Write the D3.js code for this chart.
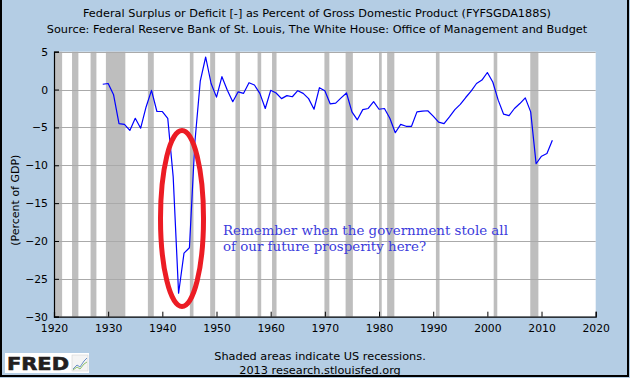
<!DOCTYPE html>
<html>
<head>
<meta charset="utf-8">
<script src="https://cdn.jsdelivr.net/npm/d3@7"></script>
<style>
  html, body { margin: 0; padding: 0; background: #b4cde4; }
  svg { display: block; }
</style>
</head>
<body>
<svg id="chart" width="630" height="378"></svg>
<script>
// ---- DATA ----
const years = [1929,1930,1931,1932,1933,1934,1935,1936,1937,1938,1939,1940,1941,1942,1943,1944,1945,1946,1947,1948,1949,
  1950,1951,1952,1953,1954,1955,1956,1957,1958,1959,1960,1961,1962,1963,1964,1965,1966,1967,1968,1969,
  1970,1971,1972,1973,1974,1975,1976,1977,1978,1979,1980,1981,1982,1983,1984,1985,1986,1987,1988,1989,
  1990,1991,1992,1993,1994,1995,1996,1997,1998,1999,2000,2001,2002,2003,2004,2005,2006,2007,2008,2009,
  2010,2011,2012];
const deficitPct = [0.7,0.8,-0.7,-4.5,-4.6,-5.4,-3.8,-5.1,-2.3,-0.1,-2.9,-2.9,-3.8,-11.5,-26.9,-21.6,-20.9,-7.0,1.1,4.3,0.8,
  -1.0,1.7,-0.1,-1.6,-0.3,-0.5,0.9,0.6,-0.5,-2.5,-0.1,-0.45,-1.2,-0.8,-0.95,-0.15,-0.5,-1.2,-2.6,0.25,
  -0.15,-1.9,-1.8,-1.1,-0.45,-2.95,-4.0,-2.65,-2.5,-1.6,-2.6,-2.5,-3.8,-5.7,-4.6,-4.85,-4.85,-2.95,-2.85,-2.8,
  -3.5,-4.3,-4.5,-3.6,-2.65,-1.95,-1.05,-0.2,0.8,1.25,2.25,1.0,-1.4,-3.25,-3.45,-2.5,-1.85,-1.1,-2.95,-9.8,
  -8.8,-8.45,-6.7];
const recessionStart = [1920.0,1923.33,1926.75,1929.58,1937.33,1945.08,1948.83,1953.5,1957.58,1960.25,1969.92,1973.83,1980.0,1981.5,1990.5,2001.17,2007.92];
const recessionEnd   = [1921.5,1924.5,1927.83,1933.17,1938.42,1945.75,1949.75,1954.33,1958.25,1961.08,1970.83,1975.17,1980.5,1982.83,1991.17,2001.83,2009.42];
const xTicks = [1920,1930,1940,1950,1960,1970,1980,1990,2000,2010,2020];
const yTicks = [5,0,-5,-10,-15,-20,-25,-30];
const titleLines = ["Federal Surplus or Deficit [-] as Percent of Gross Domestic Product (FYFSGDA188S)",
  "Source: Federal Reserve Bank of St. Louis, The White House: Office of Management and Budget"];
const yLabel = "(Percent of GDP)";
const footLines = ["Shaded areas indicate US recessions.", "2013 research.stlouisfed.org"];
const noteLines = ["Remember when the government stole all", "of our future prosperity here?"];
const circledYear = [1939.66, 1947.6];
const circledRange = [-5.4, -28.65];

// ---- LAYOUT ----
const W = 630, H = 378;
const plot = {left: 54, right: 595.7, top: 51.7, bottom: 316.7};
const svg = d3.select("#chart");
const font = "DejaVu Sans, Verdana, sans-serif";

svg.append("rect").attr("x",0).attr("y",0).attr("width",W).attr("height",H).attr("fill","#b4cde4");

const x = d3.scaleLinear().domain([1920, 2020]).range([plot.left, plot.right]);
const y = d3.scaleLinear().domain([-30, 5]).range([plot.bottom, plot.top]);

// plot background
svg.append("rect").attr("x", plot.left).attr("y", plot.top)
  .attr("width", plot.right - plot.left).attr("height", plot.bottom - plot.top).attr("fill", "#ffffff");

// recessions
svg.append("g").selectAll("rect").data(recessionStart.map((s,i)=>[s, recessionEnd[i]])).join("rect")
  .attr("x", d => x(d[0])).attr("y", plot.top)
  .attr("width", d => x(d[1]) - x(d[0])).attr("height", plot.bottom - plot.top)
  .attr("fill", "#bebebe");

// gridlines
svg.append("g").selectAll("line").data(yTicks.filter(t => t > -30)).join("line")
  .attr("x1", plot.left).attr("x2", plot.right)
  .attr("y1", d => Math.round(y(d)) + 0.5).attr("y2", d => Math.round(y(d)) + 0.5)
  .attr("stroke", "#aaaaaa").attr("stroke-width", 1);

// axes
const yAxis = d3.axisLeft(y).tickValues(yTicks).tickSize(-5).tickPadding(6);
const gy = svg.append("g").attr("transform", `translate(${plot.left},0)`).call(yAxis);
const xAxis = d3.axisBottom(x).tickValues(xTicks).tickFormat(d3.format("d")).tickSize(-5).tickPadding(8);
const gx = svg.append("g").attr("transform", `translate(0,${plot.bottom})`).call(xAxis);
[gx, gy].forEach(g => {
  g.select(".domain").attr("stroke", "#000").attr("stroke-width", 1.2);
  g.selectAll(".tick line").attr("stroke", "#000");
  g.selectAll("text").attr("font-family", font).attr("font-size", "10.8px").attr("fill", "#000");
});

// data line
const line = d3.line().x((d,i) => x(years[i])).y(d => y(d));
svg.append("path").datum(deficitPct).attr("d", line)
  .attr("fill", "none").attr("stroke", "#0000ff").attr("stroke-width", 1.2).attr("stroke-linejoin", "round");

// red ellipse annotation
svg.append("ellipse")
  .attr("cx", (x(circledYear[0]) + x(circledYear[1])) / 2)
  .attr("cy", (y(circledRange[0]) + y(circledRange[1])) / 2)
  .attr("rx", (x(circledYear[1]) - x(circledYear[0])) / 2)
  .attr("ry", (y(circledRange[1]) - y(circledRange[0])) / 2)
  .attr("fill", "none").attr("stroke", "#ec1c24").attr("stroke-width", 5);

// note text
svg.append("g").selectAll("text").data(noteLines).join("text")
  .attr("x", 223).attr("y", (d,i) => 234.5 + i * 16.7)
  .attr("font-family", "DejaVu Serif, serif").attr("font-size", "13.4px")
  .attr("fill", "#3c3cdc").text(d => d);

// titles
svg.append("g").selectAll("text").data(titleLines).join("text")
  .attr("x", 317).attr("y", (d,i) => 17 + i * 15.5).attr("text-anchor", "middle")
  .attr("font-family", font).attr("font-size", "11.3px").attr("fill", "#000").text(d => d);

// y label
svg.append("text").attr("transform", `translate(19,${(plot.top + plot.bottom) / 2 + 16}) rotate(-90)`)
  .attr("text-anchor", "middle").attr("font-family", font).attr("font-size", "11px").attr("fill", "#000")
  .text(yLabel);

// footer
svg.append("g").selectAll("text").data(footLines).join("text")
  .attr("x", 320).attr("y", (d,i) => 359.5 + i * 14).attr("text-anchor", "middle")
  .attr("font-family", font).attr("font-size", "11.3px").attr("fill", "#000").text(d => d);

// FRED logo
const logo = svg.append("g");
logo.append("rect").attr("x", 5).attr("y", 353).attr("width", 84).attr("height", 20).attr("fill", "#ffffff");
logo.append("text").attr("x", 7).attr("y", 369.5).attr("font-family", "DejaVu Sans, sans-serif")
  .attr("font-weight", "bold").attr("font-size", "17px")
  .attr("textLength", 62).attr("lengthAdjust", "spacingAndGlyphs")
  .attr("fill", "#231f20").attr("stroke", "#231f20").attr("stroke-width", 0.6).text("FRED");
logo.append("rect").attr("x", 72).attr("y", 355).attr("width", 16).attr("height", 16)
  .attr("fill", "#f4f4f4").attr("stroke", "#cccccc").attr("stroke-width", 0.5);
logo.append("path").attr("d", "M73,369 L77,365 L80,367 L84,361 L87,358").attr("fill","none").attr("stroke","#6a8fc8").attr("stroke-width",1);
logo.append("path").attr("d", "M73,370 L77,367 L80,369 L84,364 L87,362").attr("fill","none").attr("stroke","#8cc06a").attr("stroke-width",1);

// outer border
svg.append("path").attr("d", `M1,0 V${H-2} H${W-2} V0`).attr("fill", "none").attr("stroke", "#000").attr("stroke-width", 2);
</script>
</body>
</html>
